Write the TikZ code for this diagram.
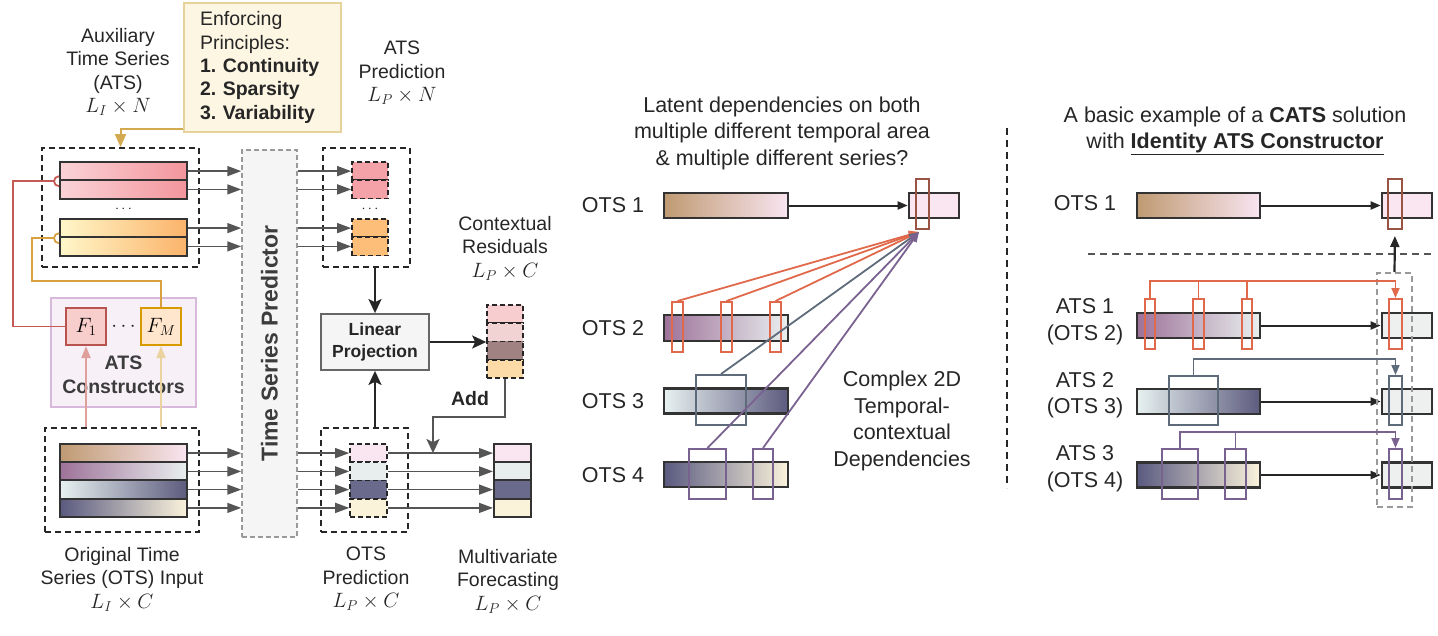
\documentclass[tikz,border=0pt]{standalone}
\usepackage{fontspec}
\setmainfont{Liberation Sans}
\usetikzlibrary{arrows.meta,calc}
\frenchspacing
\definecolor{txt}{HTML}{262626}
\definecolor{barc}{HTML}{333333}
\definecolor{dashc}{HTML}{262626}
\definecolor{arrg}{HTML}{555555}
\definecolor{pinkL}{HTML}{FAD3D7}
\definecolor{pinkR}{HTML}{F3959C}
\definecolor{orL}{HTML}{FFF7C9}
\definecolor{orR}{HTML}{FBB36A}
\definecolor{oaL}{HTML}{BF9A72}
\definecolor{oaR}{HTML}{F9E5F1}
\definecolor{obL}{HTML}{9E7299}
\definecolor{obR}{HTML}{E9EFEF}
\definecolor{ocL}{HTML}{E7F1F0}
\definecolor{ocR}{HTML}{5D5B7E}
\definecolor{odL}{HTML}{5A5A80}
\definecolor{odR}{HTML}{FBF3DC}
\definecolor{ppk}{HTML}{F4A1A7}
\definecolor{por}{HTML}{FDBE7A}
\definecolor{qa}{HTML}{F9E6F1}
\definecolor{qb}{HTML}{E8EEEE}
\definecolor{qc}{HTML}{6A6A8C}
\definecolor{qd}{HTML}{FBF2DA}
\definecolor{ra}{HTML}{F8CDD0}
\definecolor{rb}{HTML}{F1D3D3}
\definecolor{rc}{HTML}{A08282}
\definecolor{rd}{HTML}{FDDBA8}
\definecolor{redf}{HTML}{F8CECC}
\definecolor{redb}{HTML}{B85450}
\definecolor{ylf}{HTML}{FFE6CC}
\definecolor{ylb}{HTML}{D79B00}
\definecolor{redc}{HTML}{C55A55}
\definecolor{orc}{HTML}{D9A040}
\definecolor{enff}{HTML}{FDF6E3}
\definecolor{enfb}{HTML}{E6D29B}
\definecolor{enfa}{HTML}{D4AA50}
\definecolor{consf}{HTML}{F7F0F7}
\definecolor{consb}{HTML}{D9B9DB}
\definecolor{fone}{HTML}{DFA09B}
\definecolor{fm}{HTML}{EBD3A0}
\definecolor{predf}{HTML}{F5F5F5}
\definecolor{predb}{HTML}{999999}
\definecolor{lpf}{HTML}{F5F5F5}
\definecolor{lpb}{HTML}{666666}
\definecolor{hbr}{HTML}{9A5444}
\definecolor{hor}{HTML}{E0694B}
\definecolor{hsl}{HTML}{5E6B7B}
\definecolor{hpu}{HTML}{7A6290}
\definecolor{tgr}{HTML}{EEF0EF}
\begin{document}
\begin{tikzpicture}[x=1pt,y=-1pt,
  lblL/.style={font=\fontsize{19.5}{23.5}\selectfont, text=txt, align=center, inner sep=0},
  lblM/.style={font=\fontsize{21.5}{26.5}\selectfont, text=txt, align=center, inner sep=0},
  bar/.style={draw=barc, line width=2pt, inner sep=0, minimum width=127, minimum height=18.25},
  dbox/.style={draw=dashc, dash pattern=on 6pt off 4pt, line width=1.8pt, inner sep=0},
  cell/.style={draw=dashc, dash pattern=on 5pt off 3pt, line width=1.6pt, inner sep=0, minimum width=36, minimum height=18.25},
  fcell/.style={draw=barc, line width=2pt, inner sep=0, minimum width=37, minimum height=18.25},
  garr/.style={draw=arrg, line width=1.5pt, -{Triangle[length=14pt,width=10pt]}},
  karr/.style={draw=txt, line width=2pt, -{Stealth[length=14pt,width=13pt,inset=3pt]}},
  addarr/.style={draw=arrg, line width=2pt, -{Stealth[length=14pt,width=13pt,inset=3pt]}},
  marr/.style={draw=txt, line width=2pt, -{Triangle[length=10pt,width=8pt]}},
  mbar/.style={draw=barc, line width=2.6pt, inner sep=0, minimum width=124, minimum height=25},
  tbox/.style={draw=barc, line width=2.6pt, inner sep=0, minimum width=50, minimum height=25},
  hl/.style={draw=#1, line width=2pt, inner sep=0, minimum height=50},
  carr/.style={draw=#1, line width=1.8pt, -{Triangle[length=10pt,width=8pt]}},
  conn/.style={draw=#1, line width=1.8pt}
]
\useasboundingbox (0,0) rectangle (1438,635);

% ================= LEFT =================
\node[lblL] (atslbl) at (118,72) {Auxiliary\\Time Series\\(ATS)\\$L_I\times N$};
\node[draw=enfb, fill=enff, line width=1.5pt, minimum width=157, minimum height=129,
      text width=125, inner xsep=16, inner ysep=0, align=left, text=txt,
      font=\fontsize{19.5}{23.4}\selectfont] (enf) at (262.5,67.5)
      {Enforcing\\Principles:\\\textbf{1. Continuity}\\\textbf{2. Sparsity}\\\textbf{3. Variability}};

\node[dbox, minimum width=157, minimum height=119] (atsbox) at (120.5,207.5) {};
\node[bar, left color=pinkL, right color=pinkR] (p1) at (123.5,171.1) {};
\node[bar, left color=pinkL, right color=pinkR] (p2) at (123.5,189.4) {};
\node[bar, left color=orL, right color=orR] (o1) at (123.5,228.1) {};
\node[bar, left color=orL, right color=orR] (o2) at (123.5,246.4) {};
\node[lblL, font=\fontsize{14}{16}\selectfont] (dots1) at (123.5,209) {$\cdots$};
\draw[enfa, line width=2pt, -{Triangle[length=13pt,width=11pt]}] ([yshift=4pt]enf.south west) -| (atsbox.north);

\node[draw=predb, dash pattern=on 5pt off 3pt, line width=1.5pt, fill=predf, minimum width=55,
      minimum height=387, inner sep=0] (pred) at (269.5,343.5) {};
\node[rotate=90, font=\bfseries\fontsize{23}{27}\selectfont, text=txt!90!white] (predt) at (pred.center) {Time Series Predictor};

\node[draw=consb, fill=consf, line width=1.5pt, minimum width=145, minimum height=109, inner sep=0] (cons) at (123.5,352.5) {};
\node[draw=redb, fill=redf, line width=2pt, minimum width=40, minimum height=37, inner sep=0, font=\fontsize{21}{24}\selectfont] (F1) at (86,326.5) {$F_1$};
\node[draw=ylb, fill=ylf, line width=2pt, minimum width=40, minimum height=37, inner sep=0, font=\fontsize{21}{24}\selectfont] (FM) at (161,326.5) {$F_M$};
\node[lblL] (dots2) at (123.5,326.5) {$\cdots$};
\node[lblL, font=\bfseries\fontsize{19.5}{24}\selectfont, text=txt!90!white] (conslbl) at (123.5,375) {ATS\\Constructors};

\node[dbox, minimum width=154, minimum height=104] (otsbox) at (122,480) {};
\node[bar, left color=oaL, right color=oaR] (s1) at (123.5,453.1) {};
\node[bar, left color=obL, right color=obR] (s2) at (123.5,471.4) {};
\node[bar, left color=ocL, right color=ocR] (s3) at (123.5,489.6) {};
\node[bar, left color=odL, right color=odR] (s4) at (123.5,507.9) {};
\node[lblL] (otslbl) at (122,579) {Original Time\\Series (OTS) Input\\$L_I\times C$};

\draw[fone, line width=1.8pt, -{Triangle[length=12pt,width=9pt]}] (otsbox.north -| F1.south) -- (F1.south);
\draw[fm, line width=1.8pt, -{Triangle[length=12pt,width=9pt]}] (otsbox.north -| FM.south) -- (FM.south);

% red and orange connectors
\draw[redc, line width=1.8pt] ([yshift=5pt]p1.south west) arc[start angle=270, end angle=90, radius=5];
\draw[redc, line width=1.8pt] ([xshift=-5pt]p1.south west) -- ++(-41,0) |- (F1.west);
\draw[orc, line width=1.8pt] ([yshift=5pt]o1.south west) arc[start angle=270, end angle=90, radius=5];
\draw[orc, line width=1.8pt] ([xshift=-5pt]o1.south west) -- ++(-22,0) -- ++(0,42.75) -| (FM.north);

\foreach \n in {p1,p2,o1,o2,s1,s2,s3,s4}
  \draw[garr] (\n.east) -- (\n.east -| pred.west);

% ATS prediction
\node[dbox, minimum width=87, minimum height=119] (atspred) at (366.5,207.5) {};
\node[cell, fill=ppk] (pp1) at (370,171.1) {};
\node[cell, fill=ppk] (pp2) at (370,189.4) {};
\node[cell, fill=por] (po1) at (370,228.1) {};
\node[cell, fill=por] (po2) at (370,246.4) {};
\node[lblL, font=\fontsize{14}{16}\selectfont] (dots3) at (370,209) {$\cdots$};
\draw[garr] (p1.east -| pred.east) -- (pp1.west);
\draw[garr] (p2.east -| pred.east) -- (pp2.west);
\draw[garr] (o1.east -| pred.east) -- (po1.west);
\draw[garr] (o2.east -| pred.east) -- (po2.west);
\node[lblL] (atsplbl) at (402,73) {ATS\\Prediction\\$L_P\times N$};

% Linear projection
\node[draw=lpb, fill=lpf, line width=1.8pt, minimum width=108, minimum height=56, inner sep=0,
      font=\bfseries\fontsize{17.5}{22}\selectfont, align=center, text=txt] (lp) at (375,342) {Linear\\Projection};

% residuals
\node[cell, fill=ra] (r1) at (505,314.1) {};
\node[cell, fill=rb] (r2) at (505,332.4) {};
\node[cell, fill=rc] (r3) at (505,350.6) {};
\node[cell, fill=rd] (r4) at (505,368.9) {};
\node[lblL] (reslbl) at (505,248) {Contextual\\Residuals\\$L_P\times C$};

% OTS prediction
\node[dbox, minimum width=87, minimum height=104] (otspred) at (364.5,480) {};
\node[cell, fill=qa, minimum width=37] (q1) at (368.5,453.1) {};
\node[cell, fill=qb, minimum width=37] (q2) at (368.5,471.4) {};
\node[cell, fill=qc, minimum width=37] (q3) at (368.5,489.6) {};
\node[cell, fill=qd, minimum width=37] (q4) at (368.5,507.9) {};
\node[fcell, fill=qa] (f1) at (512.5,453.1) {};
\node[fcell, fill=qb] (f2) at (512.5,471.4) {};
\node[fcell, fill=qc] (f3) at (512.5,489.6) {};
\node[fcell, fill=qd] (f4) at (512.5,507.9) {};
\draw[garr] (s1.east -| pred.east) -- (q1.west);
\draw[garr] (s2.east -| pred.east) -- (q2.west);
\draw[garr] (s3.east -| pred.east) -- (q3.west);
\draw[garr] (s4.east -| pred.east) -- (q4.west);
\draw[garr] (q1.east) -- (f1.west);
\draw[garr] (q2.east) -- (f2.west);
\draw[garr] (q3.east) -- (f3.west);
\draw[garr] (q4.east) -- (f4.west);

\draw[karr] (atspred.south -| lp.north) -- (lp.north);
\draw[karr] (otspred.north -| lp.south) -- (lp.south);
\draw[karr] (lp.east) -- (lp.east -| r2.west);
\coordinate (addpt) at (433,453.1);
\draw[addarr] (r4.south) -- ++(0,38) -| (addpt);
\node[lblL, font=\bfseries\fontsize{19.5}{23.5}\selectfont] (addlbl) at (470,399) {Add};

\node[lblL] (otsplbl) at (366,579) {OTS\\Prediction\\$L_P\times C$};
\node[lblL] (mflbl) at (508,581) {Multivariate\\Forecasting\\$L_P\times C$};

% ================= MIDDLE =================
\node[lblM] (mtitle) at (782,133) {Latent dependencies on both\\multiple different temporal area\\\& multiple different series?};
\node[lblM] (ml1) at (613,205) {OTS 1};
\node[lblM] (ml2) at (613,328) {OTS 2};
\node[lblM] (ml3) at (613,401) {OTS 3};
\node[lblM] (ml4) at (613,475) {OTS 4};
\node[mbar, left color=oaL, right color=oaR] (m1) at (726,205.5) {};
\node[mbar, left color=obL, right color=obR, minimum height=26] (m2) at (726,328) {};
\node[mbar, left color=ocL, right color=ocR] (m3) at (726,401) {};
\node[mbar, left color=odL, right color=odR] (m4) at (726,474.5) {};
\node[tbox, fill=qa] (mt) at (934,205.5) {};
\draw[marr] (m1.east) -- (mt.west);
\node[hl=hbr, minimum width=13] (mh) at (922.5,204) {};
\node[hl=hor, minimum width=11] (mh2a) at (677.5,327) {};
\node[hl=hor, minimum width=11] (mh2b) at (726.5,327) {};
\node[hl=hor, minimum width=11] (mh2c) at (775.5,327) {};
\node[hl=hsl, minimum width=50] (mh3) at (721,400) {};
\node[hl=hpu, minimum width=37] (mh4a) at (707.5,474) {};
\node[hl=hpu, minimum width=20] (mh4b) at (763,474) {};
\coordinate (conv) at (919,232);
\draw[carr=hor] (mh2a.north) -- (conv);
\draw[carr=hor] (mh2b.north) -- (conv);
\draw[carr=hor] (mh2c.north) -- (conv);
\draw[carr=hsl] (mh3.north) -- (conv);
\draw[carr=hpu] (mh4a.north) -- (conv);
\draw[carr=hpu] (mh4b.north) -- (conv);
\node[lblM] (cplx) at (902,421) {Complex 2D\\Temporal-\\contextual\\Dependencies};

% divider
\draw[txt, line width=2.5pt, dash pattern=on 7pt off 5pt] (1007,128) -- (1007,488);

% ================= RIGHT =================
\node[lblM] (rtitle) at (1235,131) {A basic example of a \textbf{CATS} solution\\with \underline{\textbf{Identity ATS Constructor}}};
\node[lblM] (rl1) at (1085,203) {OTS 1};
\node[lblM] (rl2) at (1085,321.5) {ATS 1\\(OTS 2)};
\node[lblM] (rl3) at (1085,395) {ATS 2\\(OTS 3)};
\node[lblM] (rl4) at (1085,468.5) {ATS 3\\(OTS 4)};
\node[mbar, left color=oaL, right color=oaR, minimum width=123] (ra1) at (1198.5,205.5) {};
\node[mbar, left color=obL, right color=obR, minimum width=123] (ra2) at (1198.5,325.5) {};
\node[mbar, left color=ocL, right color=ocR, minimum width=123] (ra3) at (1198.5,401.5) {};
\node[mbar, left color=odL, right color=odR, minimum width=123] (ra4) at (1198.5,475) {};
\node[tbox, fill=qa] (rt1) at (1407,205.5) {};
\node[tbox, fill=tgr] (rt2) at (1407,325.5) {};
\node[tbox, fill=tgr] (rt3) at (1407,401.5) {};
\node[tbox, fill=tgr] (rt4) at (1407,475) {};
\draw[marr] (ra1.east) -- (rt1.west);
\draw[marr] (ra2.east) -- (rt2.west);
\draw[marr] (ra3.east) -- (rt3.west);
\draw[marr] (ra4.east) -- (rt4.west);
\node[hl=hbr, minimum width=14] (rh) at (1395,204) {};
\draw[draw=arrg, line width=2pt, dash pattern=on 7pt off 5pt] (1088,254) -- (1433,254);
\node[draw=predb, dash pattern=on 6pt off 4pt, line width=2pt, minimum width=35, minimum height=234, inner sep=0] (rbox) at (1394.5,390) {};
\draw[marr, line width=2.2pt, -{Triangle[length=11pt,width=9pt]}, shorten >=6pt] (rbox.north) -- (rh.south);

\node[hl=hor, minimum width=10] (oh1) at (1150,324) {};
\node[hl=hor, minimum width=11] (oh2) at (1198.5,324) {};
\node[hl=hor, minimum width=10] (oh3) at (1247,324) {};
\node[hl=hor, minimum width=13] (roh) at (1395.5,324) {};
\draw[carr=hor] (oh1.north) -- ++(0,-17) -| (roh.north);
\draw[conn=hor] (oh2.north) -- ++(0,-17);
\draw[conn=hor] (oh3.north) -- ++(0,-17);

\node[hl=hsl, minimum width=49, minimum height=49] (sh) at (1193.5,400.5) {};
\node[hl=hsl, minimum width=13, minimum height=49] (rsh) at (1395.5,400.5) {};
\draw[carr=hsl] (sh.north) -- ++(0,-16) -| (rsh.north);

\node[hl=hpu, minimum width=36] (ph1) at (1180,474) {};
\node[hl=hpu, minimum width=21] (ph2) at (1235.5,474) {};
\node[hl=hpu, minimum width=13] (rph) at (1395.5,474) {};
\draw[carr=hpu] (ph1.north) -- ++(0,-16) -| (rph.north);
\draw[conn=hpu] (ph2.north) -- ++(0,-16);
\end{tikzpicture}
\end{document}
